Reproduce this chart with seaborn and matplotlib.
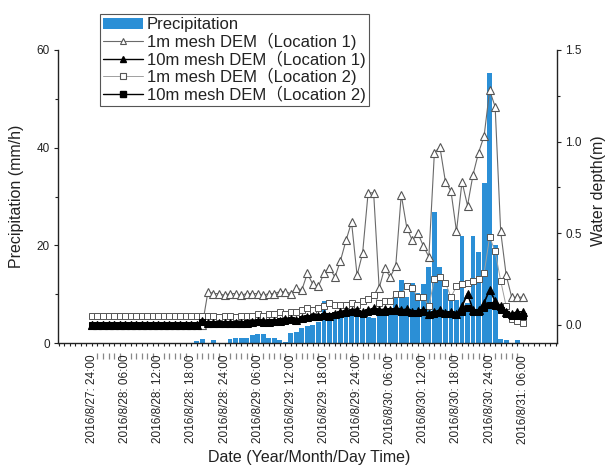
import matplotlib
matplotlib.use("Agg")
import matplotlib.pyplot as plt
import seaborn as sns
from matplotlib.patches import Patch
from matplotlib.lines import Line2D
from matplotlib.ticker import MultipleLocator

# ---------------- data (hours counted from 2016/8/27 18:00) ----------------
hours = list(range(6, 85))

precip = [0] * 19 + [
    0.5, 0.8, 0, 0.6, 0, 0, 0.8, 1.0, 1.0, 1.0, 1.6, 1.8, 1.8, 1.0, 1.0, 0.6, 0.2, 2.0, 2.2,
    3.0, 3.4, 3.7, 4.2, 8.6, 5.7, 5.0, 5.4, 6.2, 6.8, 5.8, 5.7, 5.3, 5.2, 6.5, 6.8, 7.0,
    9.4, 12.9, 9.5, 12.3, 10.2, 12.0, 15.6, 26.8, 15.6, 11.0, 9.0, 8.8, 22.0, 8.2, 22.0,
    18.6, 32.8, 55.3, 20.0, 0.8, 0.6, 0, 0.6, 0]

depth_1m_loc1 = [0.0] * 21 + [
    0.18, 0.17, 0.17, 0.16, 0.17, 0.17, 0.16, 0.17, 0.17, 0.17, 0.16, 0.17, 0.17, 0.18,
    0.18, 0.17, 0.20,
    0.19, 0.28, 0.22, 0.21, 0.28, 0.31, 0.26, 0.35, 0.46, 0.56, 0.27, 0.39, 0.72, 0.72,
    0.20, 0.31, 0.26, 0.32, 0.71, 0.53, 0.46, 0.50, 0.43, 0.37, 0.94, 0.97, 0.78, 0.73,
    0.51, 0.78, 0.65, 0.82, 0.94, 1.03, 1.28, 1.19, 0.51, 0.27, 0.15, 0.15, 0.15]

depth_10m_loc1 = [0.0] * 20 + [0.02] + [0.01] * 7 + [
    0.01, 0.015, 0.02, 0.02, 0.015, 0.02, 0.02,
    0.03, 0.03, 0.025, 0.035,
    0.04, 0.05, 0.045, 0.06, 0.05, 0.06,
    0.07, 0.08, 0.075, 0.08, 0.07, 0.08, 0.09, 0.08, 0.085, 0.08,
    0.09, 0.08, 0.085, 0.07, 0.075, 0.08, 0.06,
    0.07, 0.08, 0.065, 0.07, 0.06,
    0.10, 0.17, 0.08, 0.08, 0.12, 0.19, 0.13, 0.10, 0.07, 0.06, 0.07, 0.07]

depth_1m_loc2 = [0.05] * 21 + [
    0.05, 0.05, 0.04, 0.05, 0.05, 0.04, 0.05, 0.05, 0.05, 0.06, 0.05, 0.06, 0.06, 0.07,
    0.06, 0.07, 0.07,
    0.08, 0.09, 0.08, 0.09, 0.10, 0.12, 0.11, 0.11, 0.11, 0.12, 0.11, 0.13, 0.14, 0.16,
    0.12, 0.13, 0.13, 0.17, 0.17, 0.21, 0.20, 0.15, 0.15, 0.10, 0.25, 0.26, 0.23, 0.15,
    0.21, 0.22, 0.23, 0.24, 0.25, 0.28, 0.48, 0.40, 0.24, 0.10, 0.03, 0.02, 0.01]

depth_10m_loc2 = [0.0] * 20 + [0.015] + [0.005] * 7 + [
    0.01, 0.01, 0.015, 0.01, 0.015, 0.015, 0.02,
    0.02, 0.025, 0.02, 0.03,
    0.035, 0.04, 0.04, 0.05, 0.045, 0.055,
    0.06, 0.065, 0.07, 0.065, 0.06, 0.07, 0.075, 0.07, 0.07, 0.075,
    0.075, 0.07, 0.07, 0.065, 0.065, 0.07, 0.055,
    0.06, 0.065, 0.06, 0.06, 0.055,
    0.07, 0.09, 0.07, 0.07, 0.09, 0.11, 0.10, 0.08, 0.06, 0.05, 0.05, 0.05]

date_labels = ["2016/8/27: 24:00", "2016/8/28: 06:00", "2016/8/28: 12:00",
               "2016/8/28: 18:00", "2016/8/28: 24:00", "2016/8/29: 06:00",
               "2016/8/29: 12:00", "2016/8/29: 18:00", "2016/8/29: 24:00",
               "2016/8/30: 06:00", "2016/8/30: 12:00", "2016/8/30: 18:00",
               "2016/8/30: 24:00", "2016/8/31: 06:00"]

series_labels = ["Precipitation",
                 "1m mesh DEM\uff08Location 1)",
                 "10m mesh DEM\uff08Location 1)",
                 "1m mesh DEM\uff08Location 2)",
                 "10m mesh DEM\uff08Location 2)"]

# ---------------- styling ----------------
sns.set_theme(style="ticks")
plt.rcParams['font.family'] = ['Liberation Sans', 'Noto Sans CJK JP', 'DejaVu Sans']
plt.rcParams['axes.linewidth'] = 1.0

BLUE = '#2B8FD6'
GRAY1 = '#6a6a6a'
GRAY2 = '#a0a0a0'
TXT = '#222222'

fig = plt.figure(figsize=(6.07, 4.71), dpi=100)
ax = fig.add_axes([58 / 607, 1 - 343 / 471, 499 / 607, 293 / 471])

sns.barplot(x=hours, y=precip, native_scale=True, width=0.88, color=BLUE,
            saturation=1, errorbar=None, ax=ax, linewidth=0)

ax2 = ax.twinx()
sns.lineplot(x=hours, y=depth_1m_loc1, ax=ax2, color=GRAY1, linewidth=0.8,
             marker='^', markersize=6, markerfacecolor='white',
             markeredgecolor='#555555', markeredgewidth=0.8, legend=False)
sns.lineplot(x=hours, y=depth_1m_loc2, ax=ax2, color=GRAY2, linewidth=0.7,
             marker='s', markersize=4.5, markerfacecolor='white',
             markeredgecolor='#555555', markeredgewidth=0.7, legend=False)
sns.lineplot(x=hours, y=depth_10m_loc2, ax=ax2, color='black', linewidth=1.2,
             marker='s', markersize=4.6, markerfacecolor='black',
             markeredgecolor='black', legend=False)
sns.lineplot(x=hours, y=depth_10m_loc1, ax=ax2, color='black', linewidth=1.2,
             marker='^', markersize=5.2, markerfacecolor='black',
             markeredgecolor='black', legend=False)

# ---------------- axes ----------------
ax.set_xlim(-0.15, 90.2)
ax.set_ylim(0, 60)
ax2.set_ylim(-0.1, 1.5)

label_pos = [6 + 6 * i for i in range(len(date_labels))]
ax.set_xticks(label_pos)
ax.set_xticklabels(date_labels, rotation=90, fontsize=8.5, color=TXT)
ax.set_xticks(list(range(0, 91)), minor=True)

# short marks between the date labels (a tick row just below the axis)
sec = ax.secondary_xaxis(-0.033)
sec.set_xticks([h for h in range(7, 84) if (h - 6) % 6 != 0])
sec.set_xticklabels([])
sec.tick_params(axis='x', direction='out', length=4.5, width=0.9, color='#888888')
sec.spines['bottom'].set_visible(False)

ax.set_yticks([0, 20, 40, 60])
ax.set_yticklabels(['0', '20', '40', '60'], fontsize=8.5, color=TXT)
ax.yaxis.set_minor_locator(MultipleLocator(10))
ax2.set_yticks([0.0, 0.5, 1.0, 1.5])
ax2.set_yticklabels(['0.0', '0.5', '1.0', '1.5'], fontsize=8.5, color=TXT)
ax2.yaxis.set_minor_locator(MultipleLocator(0.25))

for a in (ax, ax2):
    a.tick_params(axis='both', which='major', direction='out', length=3,
                  width=0.8, color='#222222', pad=3)
    a.tick_params(axis='both', which='minor', direction='out', length=2.5,
                  width=0.8, color='#222222')
    a.spines['top'].set_visible(False)
ax.tick_params(axis='x', which='major', length=2.5, pad=6)
ax.spines['right'].set_visible(False)
ax2.spines['left'].set_visible(False)
ax2.spines['bottom'].set_visible(False)
for sp in ax.spines.values():
    sp.set_color('#222222')
ax2.spines['right'].set_color('#222222')

ax.set_xlabel("Date (Year/Month/Day Time)", fontsize=11.5, color=TXT)
ax.xaxis.set_label_coords(0.503, -0.365)
ax.set_ylabel("Precipitation (mm/h)", fontsize=11.5, color=TXT)
ax.yaxis.set_label_coords(-0.068, 0.5)
ax2.set_ylabel("Water depth(m)", fontsize=11.5, color=TXT)
ax2.yaxis.set_label_coords(1.068, 0.52)

# ---------------- legend ----------------
handles = [
    Patch(facecolor=BLUE, edgecolor='none'),
    Line2D([], [], color=GRAY1, lw=0.8, marker='^', markersize=5,
           markerfacecolor='white', markeredgecolor='#555555', markeredgewidth=0.8),
    Line2D([], [], color='black', lw=1.0, marker='^', markersize=5,
           markerfacecolor='black', markeredgecolor='black'),
    Line2D([], [], color=GRAY2, lw=0.7, marker='s', markersize=4,
           markerfacecolor='white', markeredgecolor='#555555', markeredgewidth=0.8),
    Line2D([], [], color='black', lw=1.0, marker='s', markersize=4,
           markerfacecolor='black', markeredgecolor='black'),
]
leg = fig.legend(handles, series_labels, loc='upper left',
                 bbox_to_anchor=(100 / 607, 1 - 14 / 471), borderaxespad=0,
                 fontsize=12, frameon=True, fancybox=False, framealpha=1,
                 edgecolor='#555555', labelspacing=0.02, borderpad=0.2,
                 handlelength=2.4, handletextpad=0.2)
leg.get_frame().set_linewidth(0.8)
for t in leg.get_texts():
    t.set_color(TXT)

fig.savefig("out.png", dpi=100)
